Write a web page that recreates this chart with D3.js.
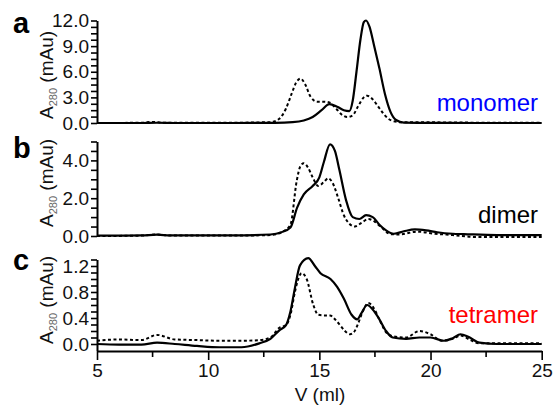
<html>
<head>
<style>
  body { margin: 0; background: #fff; }
  text { font-family: "Liberation Sans", Arial, sans-serif; }
</style>
</head>
<body>
<svg id="chart" width="556" height="408"></svg>
<script src="https://d3js.org/d3.v7.min.js"></script>
<script>
// monomer (a)
const monoSolidV = [5, 7, 7.7, 8.5, 11, 13, 13.8, 14.3, 14.7, 15.1, 15.45, 15.8, 16.1, 16.35, 16.5, 16.67, 16.85, 17.0, 17.1, 17.25, 17.45, 17.7, 17.95, 18.2, 18.45, 18.8, 20, 22, 25]
const monoSolidA = [0, 0, 0.03, 0, 0, 0.02, 0.1, 0.3, 0.7, 1.5, 2.2, 1.9, 1.5, 1.4, 2.6, 6.0, 9.8, 11.8, 12.0, 11.3, 9.2, 6.4, 3.4, 1.3, 0.35, 0.05, 0.02, 0, 0]
const monoDotV = [5, 7, 7.5, 8, 11, 12.8, 13.2, 13.5, 13.75, 13.95, 14.15, 14.35, 14.6, 14.9, 15.2, 15.45, 15.75, 16.0, 16.25, 16.5, 16.75, 17.0, 17.15, 17.35, 17.6, 17.85, 18.1, 18.35, 18.7, 19.5, 21, 25]
const monoDotA = [0, 0.03, 0.12, 0.03, 0.03, 0.1, 0.5, 1.7, 3.4, 4.7, 5.2, 4.6, 3.1, 2.5, 2.5, 2.4, 1.7, 1.0, 0.7, 0.9, 2.0, 3.0, 3.2, 2.9, 2.1, 1.2, 0.5, 0.2, 0.08, 0.1, 0.05, 0.03]

// dimer (b)
const dimSolidV = [5, 7, 7.7, 8.3, 11, 12.8, 13.3, 13.7, 14.0, 14.3, 14.7, 15.0, 15.2, 15.48, 15.7, 15.9, 16.2, 16.5, 16.8, 17.1, 17.4, 17.7, 18.0, 18.35, 18.8, 19.3, 19.8, 20.3, 21, 21.5, 23, 25]
const dimSolidA = [0.02, 0.03, 0.07, 0.03, 0.03, 0.08, 0.2, 0.45, 1.5, 2.2, 2.65, 3.1, 3.9, 4.85, 4.5, 3.5, 1.9, 1.0, 0.9, 1.1, 1.0, 0.6, 0.3, 0.12, 0.25, 0.35, 0.3, 0.2, 0.12, 0.1, 0.05, 0.05]
const dimDotV = [5, 7, 7.7, 8.3, 11, 12.8, 13.3, 13.7, 13.98, 14.15, 14.3, 14.5, 14.7, 14.95, 15.2, 15.4, 15.6, 15.85, 16.1, 16.35, 16.6, 16.9, 17.2, 17.5, 17.8, 18.2, 18.6, 19.4, 20.2, 21, 22, 25]
const dimDotA = [0, 0.02, 0.08, 0.02, 0.02, 0.05, 0.2, 0.6, 2.9, 3.7, 3.85, 3.6, 3.1, 2.65, 2.85, 3.05, 2.8, 2.0, 1.1, 0.65, 0.5, 0.7, 0.9, 0.75, 0.45, 0.1, 0.08, 0.23, 0.12, 0.05, -0.05, -0.05]

// tetramer (c)
const tetSolidV = [5, 6, 7, 7.7, 8.5, 9.5, 10.5, 11.5, 12.3, 12.8, 13.2, 13.5, 13.7, 13.9, 14.13, 14.5, 14.8, 15.05, 15.5, 15.8, 16.1, 16.45, 16.7, 16.9, 17.15, 17.4, 17.7, 18.0, 18.3, 18.9, 19.5, 20.0, 20.6, 21.0, 21.35, 21.7, 22.2, 23, 25]
const tetSolidA = [0.0, -0.01, -0.01, 0.02, 0, -0.03, -0.05, -0.05, 0.01, 0.08, 0.21, 0.29, 0.5, 0.86, 1.21, 1.32, 1.2, 1.09, 1.0, 0.88, 0.7, 0.45, 0.38, 0.48, 0.6, 0.53, 0.38, 0.2, 0.1, 0.08, 0.1, 0.1, 0.05, 0.09, 0.15, 0.11, 0.02, 0.0, 0.0]
const tetDotV = [5, 6, 7, 7.7, 8.5, 9.5, 10.5, 11.5, 12.3, 12.8, 13.2, 13.5, 13.7, 13.9, 14.05, 14.2, 14.43, 14.73, 14.95, 15.2, 15.48, 15.7, 15.93, 16.15, 16.38, 16.55, 16.75, 16.95, 17.2, 17.45, 17.72, 18.0, 18.3, 18.9, 19.5, 20.0, 20.5, 21.0, 21.35, 21.8, 22.2, 23, 25]
const tetDotA = [0.05, 0.07, 0.06, 0.14, 0.07, 0.06, 0.05, 0.05, 0.06, 0.1, 0.25, 0.29, 0.45, 0.8, 1.0, 1.09, 1.0, 0.6, 0.45, 0.44, 0.44, 0.38, 0.29, 0.2, 0.15, 0.18, 0.32, 0.5, 0.63, 0.55, 0.36, 0.18, 0.12, 0.1, 0.2, 0.15, 0.05, 0.08, 0.13, 0.06, 0.01, 0.01, 0.01]

// axis ticks
const xTicks = [5, 10, 15, 20, 25]
const xMinorTicks = [7.5, 12.5, 17.5, 22.5]
const aLabels = [0, 3, 6, 9, 12]
const bLabels = [0, 2, 4]
const cLabels = [0, 0.4, 0.8, 1.2]

let svg = d3.select("#chart")
let x = d3.scaleLinear().domain([5, 25]).range([97, 541.7])

let panels = [
    { letter: "a", name: "monomer", color: "#0000ff", domain: [0, 12], range: [123, 20.5],
      ticks: d3.range(0, 12.01, 0.75), labels: aLabels, solid: [monoSolidV, monoSolidA], dot: [monoDotV, monoDotA],
      letterY: 33, titleY: 75, nameY: 111 },
    { letter: "b", name: "dimer", color: "#000", domain: [0, 5], range: [236, 141.5],
      ticks: d3.range(0, 5.01, 0.5), labels: bLabels, solid: [dimSolidV, dimSolidA], dot: [dimDotV, dimDotA],
      letterY: 158, titleY: 183, nameY: 223 },
    { letter: "c", name: "tetramer", color: "#ff0000", domain: [-0.1, 1.3], range: [350.5, 259.5],
      ticks: d3.range(0, 1.31, 0.1), labels: cLabels, solid: [tetSolidV, tetSolidA], dot: [tetDotV, tetDotA],
      letterY: 270, titleY: 300, nameY: 323 }
]

panels.forEach(p => {
    let y = d3.scaleLinear().domain(p.domain).range(p.range)
    let g = svg.append("g")

    // y axis
    let axis = d3.axisLeft(y)
        .tickValues(p.ticks)
        .tickSize(6)
        .tickSizeOuter(0)
        .tickFormat(d => p.labels.some(l => Math.abs(l - d) < 1e-6) ? d3.format(".1f")(d) : "")
    let ag = g.append("g").attr("transform", "translate(97,0)").call(axis)
    ag.select(".domain").attr("stroke", "#000").attr("stroke-width", 2)
    ag.selectAll(".tick line").attr("stroke", "#000").attr("stroke-width", 1.6)
    ag.selectAll(".tick text")
        .attr("x", -8)
        .style("font-family", "Liberation Sans, Arial, sans-serif")
        .style("font-size", "19px")
        .attr("fill", "#111")

    // curves
    let line = d3.line()
        .x(d => x(d[0]))
        .y(d => y(d[1]))
        .curve(d3.curveMonotoneX)
    g.append("path")
        .datum(d3.zip(p.dot[0], p.dot[1]))
        .attr("d", line)
        .attr("fill", "none")
        .attr("stroke", "#000")
        .attr("stroke-width", 2)
        .attr("stroke-dasharray", "3,2.5")
    g.append("path")
        .datum(d3.zip(p.solid[0], p.solid[1]))
        .attr("d", line)
        .attr("fill", "none")
        .attr("stroke", "#000")
        .attr("stroke-width", 2.2)

    // panel letter
    g.append("text")
        .attr("x", 13).attr("y", p.letterY)
        .style("font-size", "29px").style("font-weight", "bold")
        .text(p.letter)

    // y title
    let t = g.append("text")
        .attr("transform", `translate(53,${p.titleY}) rotate(-90)`)
        .attr("text-anchor", "middle")
        .style("font-size", "19px")
        .attr("fill", "#111")
    t.append("tspan").text("A")
    t.append("tspan").text("280").style("font-size", "11px").attr("dy", 4).attr("fill", "#666")
    t.append("tspan").text(" (mAu)").attr("dy", -4)

    // sample name
    g.append("text")
        .attr("x", 538).attr("y", p.nameY)
        .attr("text-anchor", "end")
        .style("font-size", "24px")
        .attr("fill", p.color)
        .text(p.name)
})

// x axis on bottom panel
let xAxis = d3.axisBottom(x).tickValues(xTicks).tickSize(9).tickSizeOuter(0).tickFormat(d3.format("d"))
let xg = svg.append("g").attr("transform", "translate(0,351)").call(xAxis)
xg.select(".domain").attr("stroke", "#000").attr("stroke-width", 2)
xg.selectAll(".tick line").attr("stroke", "#000").attr("stroke-width", 1.6)
xg.selectAll(".tick text")
    .attr("y", 13)
    .style("font-family", "Liberation Sans, Arial, sans-serif")
    .style("font-size", "19px")
    .attr("fill", "#111")
xg.selectAll(".minor")
    .data(xMinorTicks)
    .enter()
    .append("line")
    .attr("x1", d => x(d)).attr("x2", d => x(d))
    .attr("y1", 0).attr("y2", 6)
    .attr("stroke", "#000").attr("stroke-width", 1.6)

svg.append("text")
    .attr("x", 320).attr("y", 401)
    .attr("text-anchor", "middle")
    .style("font-size", "19px")
    .attr("fill", "#111")
    .text("V (ml)")
</script>
</body>
</html>
